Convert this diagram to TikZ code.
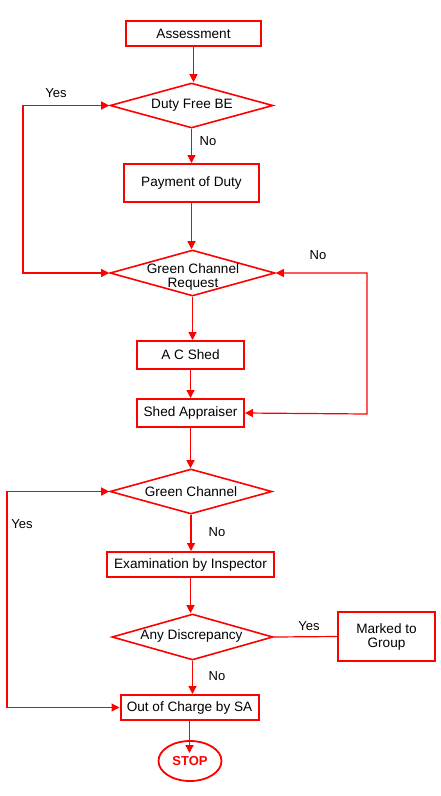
\documentclass[tikz,border=0pt]{standalone}
\usepackage{fontspec}
\setmainfont{Liberation Sans}
\usetikzlibrary{arrows.meta,shapes.geometric}
\definecolor{fr}{RGB}{255,0,0}
\tikzset{
  box/.style={draw=fr,line width=2pt,rectangle,inner sep=0pt,align=center,font=\fontsize{13.6}{14}\selectfont},
  dia/.style={draw=fr,line width=1.6pt,diamond,inner sep=0pt,aspect=3.6},
  txt/.style={inner sep=0pt,align=center,font=\fontsize{13.6}{14}\selectfont},
  lbl/.style={inner sep=0pt,font=\fontsize{13}{14}\selectfont},
  arr/.style={draw=fr,line width=1.2pt,-{Triangle[length=8pt,width=8pt]}},
  arrboth/.style={draw=fr,line width=1.2pt,{Triangle[length=8pt,width=8pt]}-{Triangle[length=8pt,width=8pt]}},
  ln/.style={draw=fr,line width=1.2pt}
}
\begin{document}
\begin{tikzpicture}[x=1pt,y=-1pt]
\useasboundingbox (0,0) rectangle (440,796);
% boxes
\node[box,minimum width=135,minimum height=25] (ass) at (193.5,33.5) {Assessment};
\node[dia,minimum width=163,minimum height=45] (d1) at (191.5,105.5) {};
\node[txt] (d1t) at (192,105) {Duty Free BE};
\node[box,minimum width=135,minimum height=38] (pay) at (191.5,183) {Payment of Duty};
\node[dia,minimum width=165,minimum height=46] (d2) at (192.5,273) {};
\node[txt] (d2t) at (193,276.5) {Green Channel\\Request};
\node[box,minimum width=107,minimum height=28] (acs) at (190.5,355) {A C Shed};
\node[box,minimum width=107,minimum height=28] (sap) at (190.5,413) {Shed Appraiser};
\node[dia,minimum width=162,minimum height=45] (d3) at (191,491.5) {};
\node[txt] (d3t) at (191,492) {Green Channel};
\node[box,minimum width=167,minimum height=25] (exa) at (190.5,564.5) {Examination by Inspector};
\node[dia,minimum width=161,minimum height=46] (d4) at (192.5,637) {};
\node[txt] (d4t) at (191.5,636) {Any Discrepancy};
\node[box,minimum width=97,minimum height=49] (mtg) at (386.5,636.5) {Marked to\\Group};
\node[box,minimum width=138,minimum height=25] (ooc) at (189.5,707.5) {Out of Charge by SA};
\node[draw=fr,line width=1.8pt,ellipse,minimum width=63,minimum height=40,inner sep=0pt,text=fr,font=\fontsize{13}{14}\selectfont\bfseries] (stop) at (190,761) {STOP};
% coordinates
\coordinate (l1a) at (23,105.5);
\coordinate (l1b) at (23,273);
\coordinate (r1a) at (367,273);
\coordinate (r1b) at (367,414);
\coordinate (l2a) at (7,491.5);
\coordinate (l2b) at (7,707.5);
\coordinate (stoptip) at (189.5,753);
% connectors
\draw[arr] (ass.south) -- (ass.south |- d1.north);
\draw[arr] (d1.south) -- (d1.south |- pay.north);
\draw[arr] (pay.south) -- (pay.south |- d2.north);
\draw[arr] (d2.south) -- (d2.south |- acs.north);
\draw[arr] (acs.south) -- (acs.south |- sap.north);
\draw[arr] (sap.south) -- (sap.south |- d3.north);
\draw[arr] (d3.south) -- (d3.south |- exa.north);
\draw[arr] (exa.south) -- (exa.south |- d4.north);
\draw[arr] (d4.south) -- (d4.south |- ooc.north);
\draw[arr] (ooc.south) -- (stoptip);
\draw[arrboth] (d1.west) -- (l1a) -- (l1b) -- (d2.west);
\draw[arrboth] (d2.east) -- (r1a) -- (r1b) -- (sap.east);
\draw[arrboth] (d3.west) -- (l2a) -- (l2b) -- (ooc.west);
\draw[ln] (d4.east) -- (mtg.west);
% labels
\node[lbl] (y1) at (56,93) {Yes};
\node[lbl] (n1) at (208,141) {No};
\node[lbl] (n2) at (318,255) {No};
\node[lbl] (y2) at (22,524) {Yes};
\node[lbl] (n3) at (217,532) {No};
\node[lbl] (y3) at (309,626) {Yes};
\node[lbl] (n4) at (217,676) {No};
\end{tikzpicture}
\end{document}
